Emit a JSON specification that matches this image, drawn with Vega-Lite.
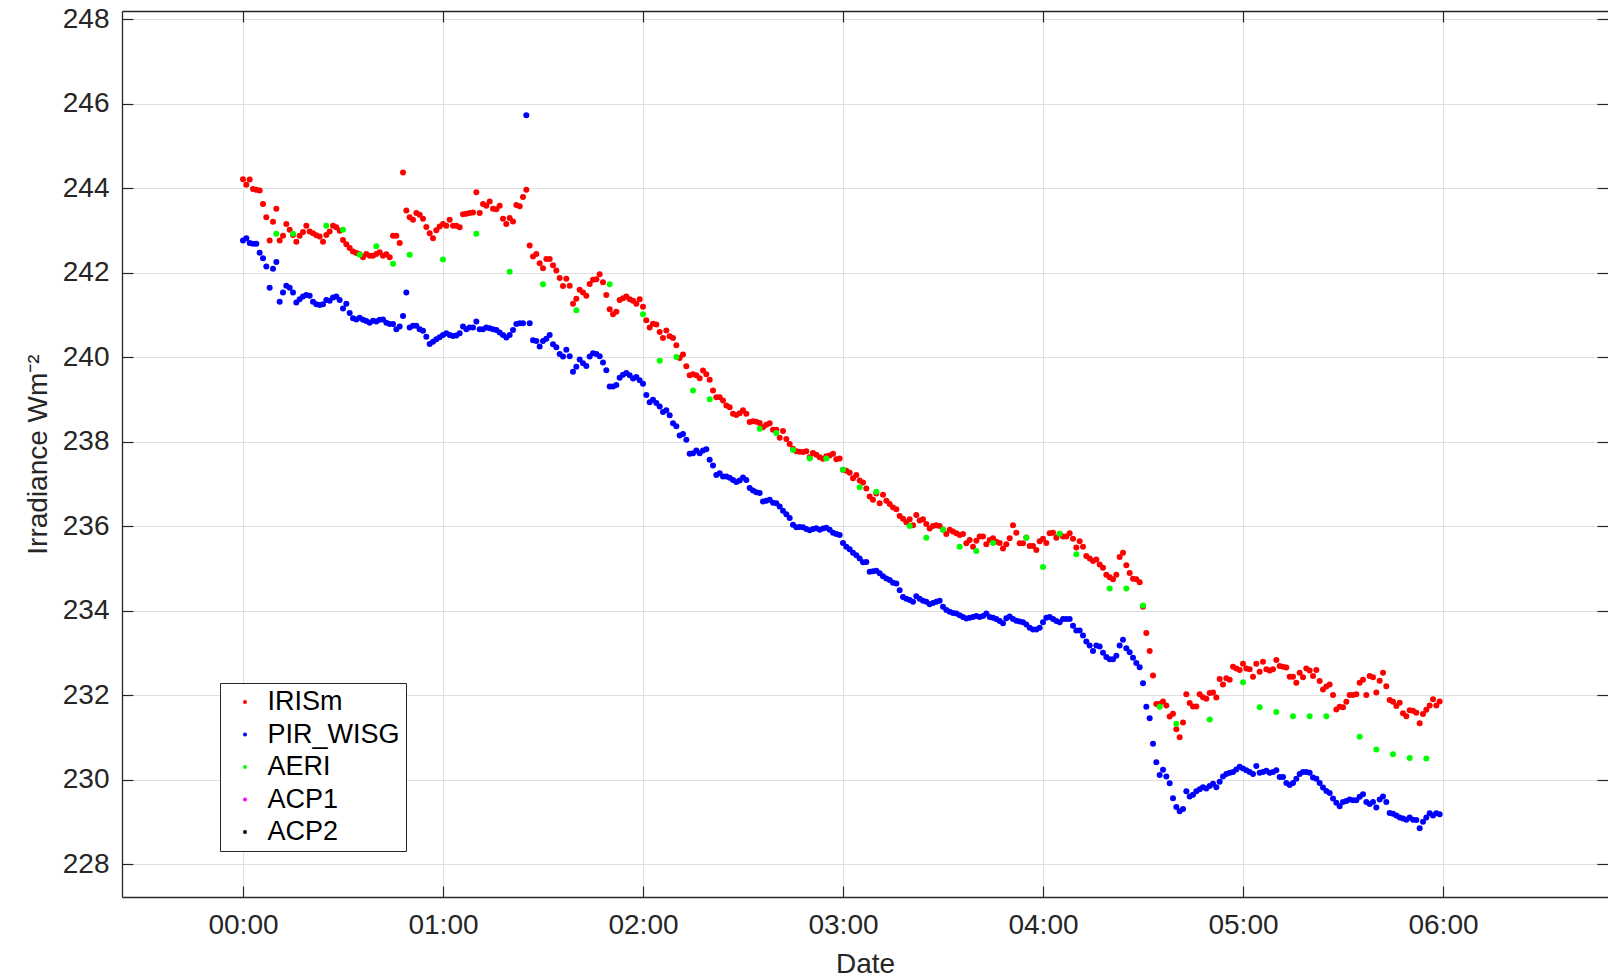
{
"$schema": "https://vega.github.io/schema/vega-lite/v6.json",
"width": 1486, "height": 886,
"autosize": {"type": "none"},
"padding": {"left": 122, "top": 11, "right": 0, "bottom": 82},
"background": "white",
"config": {"view": {"stroke": null}, "font": "Liberation Sans"},
"datasets": {
"IRISm": [{"t":0,"v":244.21},{"t":1,"v":244.08},{"t":2,"v":244.20},{"t":3,"v":243.98},{"t":4,"v":243.96},{"t":5,"v":243.94},{"t":6,"v":243.62},{"t":7,"v":243.31},{"t":8,"v":242.76},{"t":9,"v":243.20},{"t":10,"v":243.51},{"t":11,"v":242.76},{"t":12,"v":242.87},{"t":13,"v":243.15},{"t":14,"v":243.01},{"t":15,"v":242.89},{"t":16,"v":242.73},{"t":17,"v":242.87},{"t":18,"v":242.96},{"t":19,"v":243.11},{"t":20,"v":242.97},{"t":21,"v":242.93},{"t":22,"v":242.88},{"t":23,"v":242.85},{"t":24,"v":242.73},{"t":25,"v":242.89},{"t":26,"v":242.97},{"t":27,"v":243.11},{"t":28,"v":243.07},{"t":29,"v":242.99},{"t":30,"v":242.77},{"t":31,"v":242.67},{"t":32,"v":242.58},{"t":33,"v":242.50},{"t":34,"v":242.46},{"t":35,"v":242.43},{"t":36,"v":242.36},{"t":37,"v":242.44},{"t":38,"v":242.40},{"t":39,"v":242.40},{"t":40,"v":242.44},{"t":41,"v":242.48},{"t":42,"v":242.40},{"t":43,"v":242.43},{"t":44,"v":242.36},{"t":45,"v":242.87},{"t":46,"v":242.87},{"t":47,"v":242.70},{"t":48,"v":244.37},{"t":49,"v":243.47},{"t":50,"v":243.31},{"t":51,"v":243.25},{"t":52,"v":243.41},{"t":53,"v":243.37},{"t":54,"v":243.27},{"t":55,"v":243.08},{"t":56,"v":242.93},{"t":57,"v":242.81},{"t":58,"v":243.00},{"t":59,"v":243.09},{"t":60,"v":243.15},{"t":61,"v":243.11},{"t":62,"v":243.25},{"t":63,"v":243.11},{"t":64,"v":243.11},{"t":65,"v":243.07},{"t":66,"v":243.38},{"t":67,"v":243.39},{"t":68,"v":243.41},{"t":69,"v":243.42},{"t":70,"v":243.90},{"t":71,"v":243.41},{"t":72,"v":243.62},{"t":73,"v":243.58},{"t":74,"v":243.68},{"t":75,"v":243.51},{"t":76,"v":243.50},{"t":77,"v":243.58},{"t":78,"v":243.27},{"t":79,"v":243.15},{"t":80,"v":243.29},{"t":81,"v":243.21},{"t":82,"v":243.60},{"t":83,"v":243.57},{"t":84,"v":243.79},{"t":85,"v":243.96},{"t":86,"v":242.64},{"t":87,"v":242.38},{"t":88,"v":242.44},{"t":89,"v":242.22},{"t":90,"v":242.10},{"t":91,"v":242.32},{"t":92,"v":242.32},{"t":93,"v":242.17},{"t":94,"v":242.05},{"t":95,"v":241.87},{"t":96,"v":241.68},{"t":97,"v":241.85},{"t":98,"v":241.69},{"t":99,"v":241.26},{"t":100,"v":241.38},{"t":101,"v":241.59},{"t":102,"v":241.53},{"t":103,"v":241.45},{"t":104,"v":241.73},{"t":105,"v":241.83},{"t":106,"v":241.84},{"t":107,"v":241.96},{"t":108,"v":241.77},{"t":109,"v":241.47},{"t":110,"v":241.13},{"t":111,"v":241.01},{"t":112,"v":241.07},{"t":113,"v":241.35},{"t":114,"v":241.39},{"t":115,"v":241.43},{"t":116,"v":241.37},{"t":117,"v":241.33},{"t":118,"v":241.26},{"t":119,"v":241.37},{"t":120,"v":241.19},{"t":121,"v":240.87},{"t":122,"v":240.70},{"t":123,"v":240.79},{"t":124,"v":240.77},{"t":125,"v":240.59},{"t":126,"v":240.45},{"t":127,"v":240.63},{"t":128,"v":240.49},{"t":129,"v":240.45},{"t":130,"v":240.28},{"t":131,"v":239.98},{"t":132,"v":240.06},{"t":133,"v":239.78},{"t":134,"v":239.57},{"t":135,"v":239.59},{"t":136,"v":239.57},{"t":137,"v":239.50},{"t":138,"v":239.68},{"t":139,"v":239.59},{"t":140,"v":239.46},{"t":141,"v":239.21},{"t":142,"v":239.05},{"t":143,"v":239.05},{"t":144,"v":238.97},{"t":145,"v":238.85},{"t":146,"v":238.81},{"t":147,"v":238.66},{"t":148,"v":238.63},{"t":149,"v":238.67},{"t":150,"v":238.74},{"t":151,"v":238.66},{"t":152,"v":238.46},{"t":153,"v":238.48},{"t":154,"v":238.47},{"t":155,"v":238.44},{"t":156,"v":238.34},{"t":157,"v":238.40},{"t":158,"v":238.43},{"t":159,"v":238.28},{"t":160,"v":238.28},{"t":161,"v":238.09},{"t":162,"v":238.25},{"t":163,"v":238.06},{"t":164,"v":237.94},{"t":165,"v":237.83},{"t":166,"v":237.77},{"t":167,"v":237.76},{"t":168,"v":237.75},{"t":169,"v":237.77},{"t":170,"v":237.63},{"t":171,"v":237.73},{"t":172,"v":237.69},{"t":173,"v":237.63},{"t":174,"v":237.59},{"t":175,"v":237.65},{"t":176,"v":237.67},{"t":177,"v":237.71},{"t":178,"v":237.58},{"t":179,"v":237.60},{"t":180,"v":237.33},{"t":181,"v":237.31},{"t":182,"v":237.26},{"t":183,"v":237.13},{"t":184,"v":237.21},{"t":185,"v":237.08},{"t":186,"v":237.03},{"t":187,"v":236.89},{"t":188,"v":236.70},{"t":189,"v":236.62},{"t":190,"v":236.77},{"t":191,"v":236.54},{"t":192,"v":236.74},{"t":193,"v":236.60},{"t":194,"v":236.52},{"t":195,"v":236.44},{"t":196,"v":236.40},{"t":197,"v":236.24},{"t":198,"v":236.17},{"t":199,"v":236.09},{"t":200,"v":236.16},{"t":201,"v":236.02},{"t":202,"v":236.26},{"t":203,"v":236.13},{"t":204,"v":236.16},{"t":205,"v":236.05},{"t":206,"v":235.94},{"t":207,"v":236.00},{"t":208,"v":236.02},{"t":209,"v":236.00},{"t":210,"v":235.92},{"t":211,"v":235.81},{"t":212,"v":235.91},{"t":213,"v":235.87},{"t":214,"v":235.83},{"t":215,"v":235.79},{"t":216,"v":235.81},{"t":217,"v":235.59},{"t":218,"v":235.67},{"t":219,"v":235.51},{"t":220,"v":235.65},{"t":221,"v":235.75},{"t":222,"v":235.75},{"t":223,"v":235.57},{"t":224,"v":235.67},{"t":225,"v":235.71},{"t":226,"v":235.63},{"t":227,"v":235.60},{"t":228,"v":235.47},{"t":229,"v":235.57},{"t":230,"v":235.71},{"t":231,"v":236.02},{"t":232,"v":235.84},{"t":233,"v":235.59},{"t":234,"v":235.59},{"t":235,"v":235.73},{"t":236,"v":235.53},{"t":237,"v":235.53},{"t":238,"v":235.43},{"t":239,"v":235.64},{"t":240,"v":235.70},{"t":241,"v":235.60},{"t":242,"v":235.83},{"t":243,"v":235.84},{"t":244,"v":235.72},{"t":245,"v":235.82},{"t":246,"v":235.75},{"t":247,"v":235.75},{"t":248,"v":235.83},{"t":249,"v":235.70},{"t":250,"v":235.49},{"t":251,"v":235.64},{"t":252,"v":235.51},{"t":253,"v":235.29},{"t":254,"v":235.23},{"t":255,"v":235.17},{"t":256,"v":235.21},{"t":257,"v":235.09},{"t":258,"v":235.01},{"t":259,"v":234.85},{"t":260,"v":234.79},{"t":261,"v":234.74},{"t":262,"v":234.85},{"t":263,"v":235.27},{"t":264,"v":235.37},{"t":265,"v":235.07},{"t":266,"v":234.89},{"t":267,"v":234.75},{"t":268,"v":234.74},{"t":269,"v":234.67},{"t":270,"v":234.09},{"t":271,"v":233.47},{"t":272,"v":233.04},{"t":273,"v":232.46},{"t":274,"v":231.79},{"t":275,"v":231.79},{"t":276,"v":231.85},{"t":277,"v":231.75},{"t":278,"v":231.49},{"t":279,"v":231.56},{"t":280,"v":231.19},{"t":281,"v":231.00},{"t":282,"v":231.35},{"t":283,"v":232.02},{"t":284,"v":231.81},{"t":285,"v":231.73},{"t":286,"v":231.73},{"t":287,"v":232.02},{"t":288,"v":231.95},{"t":289,"v":231.91},{"t":290,"v":232.05},{"t":291,"v":232.06},{"t":292,"v":231.94},{"t":293,"v":232.38},{"t":294,"v":232.25},{"t":295,"v":232.40},{"t":296,"v":232.36},{"t":297,"v":232.67},{"t":298,"v":232.63},{"t":299,"v":232.59},{"t":300,"v":232.74},{"t":301,"v":232.63},{"t":302,"v":232.61},{"t":303,"v":232.43},{"t":304,"v":232.74},{"t":305,"v":232.55},{"t":306,"v":232.79},{"t":307,"v":232.61},{"t":308,"v":232.58},{"t":309,"v":232.61},{"t":310,"v":232.83},{"t":311,"v":232.69},{"t":312,"v":232.67},{"t":313,"v":232.65},{"t":314,"v":232.43},{"t":315,"v":232.43},{"t":316,"v":232.29},{"t":317,"v":232.53},{"t":318,"v":232.42},{"t":319,"v":232.63},{"t":320,"v":232.58},{"t":321,"v":232.45},{"t":322,"v":232.59},{"t":323,"v":232.33},{"t":324,"v":232.13},{"t":325,"v":232.20},{"t":326,"v":232.25},{"t":327,"v":232.00},{"t":328,"v":231.66},{"t":329,"v":231.72},{"t":330,"v":231.71},{"t":331,"v":231.84},{"t":332,"v":232.00},{"t":333,"v":232.00},{"t":334,"v":232.02},{"t":335,"v":232.29},{"t":336,"v":232.36},{"t":337,"v":232.00},{"t":338,"v":232.45},{"t":339,"v":232.42},{"t":340,"v":232.06},{"t":341,"v":232.34},{"t":342,"v":232.53},{"t":343,"v":232.21},{"t":344,"v":231.88},{"t":345,"v":231.84},{"t":346,"v":231.74},{"t":347,"v":231.82},{"t":348,"v":231.57},{"t":349,"v":231.50},{"t":350,"v":231.64},{"t":351,"v":231.63},{"t":352,"v":231.58},{"t":353,"v":231.33},{"t":354,"v":231.55},{"t":355,"v":231.65},{"t":356,"v":231.75},{"t":357,"v":231.90},{"t":358,"v":231.75},{"t":359,"v":231.85}],
"PIR_WISG": [{"t":0,"v":242.76},{"t":1,"v":242.81},{"t":2,"v":242.70},{"t":3,"v":242.68},{"t":4,"v":242.68},{"t":5,"v":242.47},{"t":6,"v":242.34},{"t":7,"v":242.14},{"t":8,"v":241.64},{"t":9,"v":242.09},{"t":10,"v":242.25},{"t":11,"v":241.31},{"t":12,"v":241.53},{"t":13,"v":241.69},{"t":14,"v":241.64},{"t":15,"v":241.53},{"t":16,"v":241.29},{"t":17,"v":241.37},{"t":18,"v":241.43},{"t":19,"v":241.47},{"t":20,"v":241.45},{"t":21,"v":241.31},{"t":22,"v":241.25},{"t":23,"v":241.23},{"t":24,"v":241.25},{"t":25,"v":241.35},{"t":26,"v":241.33},{"t":27,"v":241.41},{"t":28,"v":241.43},{"t":29,"v":241.35},{"t":30,"v":241.15},{"t":31,"v":241.26},{"t":32,"v":241.04},{"t":33,"v":240.92},{"t":34,"v":240.89},{"t":35,"v":240.93},{"t":36,"v":240.88},{"t":37,"v":240.85},{"t":38,"v":240.81},{"t":39,"v":240.86},{"t":40,"v":240.84},{"t":41,"v":240.88},{"t":42,"v":240.89},{"t":43,"v":240.81},{"t":44,"v":240.78},{"t":45,"v":240.78},{"t":46,"v":240.66},{"t":47,"v":240.72},{"t":48,"v":240.97},{"t":49,"v":241.53},{"t":50,"v":240.70},{"t":51,"v":240.74},{"t":52,"v":240.74},{"t":53,"v":240.66},{"t":54,"v":240.62},{"t":55,"v":240.48},{"t":56,"v":240.31},{"t":57,"v":240.36},{"t":58,"v":240.42},{"t":59,"v":240.47},{"t":60,"v":240.52},{"t":61,"v":240.56},{"t":62,"v":240.52},{"t":63,"v":240.50},{"t":64,"v":240.51},{"t":65,"v":240.56},{"t":66,"v":240.72},{"t":67,"v":240.66},{"t":68,"v":240.70},{"t":69,"v":240.70},{"t":70,"v":240.84},{"t":71,"v":240.66},{"t":72,"v":240.66},{"t":73,"v":240.70},{"t":74,"v":240.68},{"t":75,"v":240.66},{"t":76,"v":240.64},{"t":77,"v":240.58},{"t":78,"v":240.52},{"t":79,"v":240.46},{"t":80,"v":240.52},{"t":81,"v":240.64},{"t":82,"v":240.78},{"t":83,"v":240.80},{"t":84,"v":240.80},{"t":85,"v":245.72},{"t":86,"v":240.80},{"t":87,"v":240.40},{"t":88,"v":240.38},{"t":89,"v":240.25},{"t":90,"v":240.38},{"t":91,"v":240.43},{"t":92,"v":240.52},{"t":93,"v":240.30},{"t":94,"v":240.23},{"t":95,"v":240.07},{"t":96,"v":240.01},{"t":97,"v":240.17},{"t":98,"v":240.02},{"t":99,"v":239.65},{"t":100,"v":239.77},{"t":101,"v":239.94},{"t":102,"v":239.85},{"t":103,"v":239.79},{"t":104,"v":240.01},{"t":105,"v":240.09},{"t":106,"v":240.07},{"t":107,"v":240.02},{"t":108,"v":239.87},{"t":109,"v":239.69},{"t":110,"v":239.30},{"t":111,"v":239.30},{"t":112,"v":239.34},{"t":113,"v":239.51},{"t":114,"v":239.58},{"t":115,"v":239.62},{"t":116,"v":239.57},{"t":117,"v":239.49},{"t":118,"v":239.53},{"t":119,"v":239.45},{"t":120,"v":239.37},{"t":121,"v":239.10},{"t":122,"v":238.93},{"t":123,"v":238.99},{"t":124,"v":238.91},{"t":125,"v":238.83},{"t":126,"v":238.70},{"t":127,"v":238.74},{"t":128,"v":238.62},{"t":129,"v":238.43},{"t":130,"v":238.36},{"t":131,"v":238.14},{"t":132,"v":238.18},{"t":133,"v":238.04},{"t":134,"v":237.71},{"t":135,"v":237.72},{"t":136,"v":237.79},{"t":137,"v":237.72},{"t":138,"v":237.79},{"t":139,"v":237.82},{"t":140,"v":237.57},{"t":141,"v":237.43},{"t":142,"v":237.21},{"t":143,"v":237.25},{"t":144,"v":237.17},{"t":145,"v":237.17},{"t":146,"v":237.14},{"t":147,"v":237.09},{"t":148,"v":237.04},{"t":149,"v":237.08},{"t":150,"v":237.15},{"t":151,"v":237.09},{"t":152,"v":236.90},{"t":153,"v":236.84},{"t":154,"v":236.80},{"t":155,"v":236.78},{"t":156,"v":236.58},{"t":157,"v":236.60},{"t":158,"v":236.62},{"t":159,"v":236.55},{"t":160,"v":236.54},{"t":161,"v":236.46},{"t":162,"v":236.36},{"t":163,"v":236.28},{"t":164,"v":236.19},{"t":165,"v":236.03},{"t":166,"v":235.97},{"t":167,"v":235.98},{"t":168,"v":235.97},{"t":169,"v":235.93},{"t":170,"v":235.90},{"t":171,"v":235.93},{"t":172,"v":235.95},{"t":173,"v":235.91},{"t":174,"v":235.94},{"t":175,"v":235.96},{"t":176,"v":235.91},{"t":177,"v":235.84},{"t":178,"v":235.81},{"t":179,"v":235.79},{"t":180,"v":235.60},{"t":181,"v":235.51},{"t":182,"v":235.45},{"t":183,"v":235.37},{"t":184,"v":235.31},{"t":185,"v":235.23},{"t":186,"v":235.14},{"t":187,"v":235.15},{"t":188,"v":234.92},{"t":189,"v":234.93},{"t":190,"v":234.94},{"t":191,"v":234.88},{"t":192,"v":234.81},{"t":193,"v":234.76},{"t":194,"v":234.72},{"t":195,"v":234.66},{"t":196,"v":234.64},{"t":197,"v":234.48},{"t":198,"v":234.32},{"t":199,"v":234.28},{"t":200,"v":234.25},{"t":201,"v":234.21},{"t":202,"v":234.34},{"t":203,"v":234.28},{"t":204,"v":234.23},{"t":205,"v":234.21},{"t":206,"v":234.15},{"t":207,"v":234.18},{"t":208,"v":234.21},{"t":209,"v":234.23},{"t":210,"v":234.09},{"t":211,"v":234.01},{"t":212,"v":233.97},{"t":213,"v":233.94},{"t":214,"v":233.93},{"t":215,"v":233.89},{"t":216,"v":233.85},{"t":217,"v":233.81},{"t":218,"v":233.83},{"t":219,"v":233.85},{"t":220,"v":233.87},{"t":221,"v":233.85},{"t":222,"v":233.87},{"t":223,"v":233.93},{"t":224,"v":233.85},{"t":225,"v":233.83},{"t":226,"v":233.80},{"t":227,"v":233.75},{"t":228,"v":233.70},{"t":229,"v":233.82},{"t":230,"v":233.86},{"t":231,"v":233.80},{"t":232,"v":233.76},{"t":233,"v":233.74},{"t":234,"v":233.72},{"t":235,"v":233.67},{"t":236,"v":233.59},{"t":237,"v":233.55},{"t":238,"v":233.55},{"t":239,"v":233.59},{"t":240,"v":233.72},{"t":241,"v":233.83},{"t":242,"v":233.85},{"t":243,"v":233.80},{"t":244,"v":233.75},{"t":245,"v":233.72},{"t":246,"v":233.80},{"t":247,"v":233.80},{"t":248,"v":233.80},{"t":249,"v":233.64},{"t":250,"v":233.53},{"t":251,"v":233.53},{"t":252,"v":233.41},{"t":253,"v":233.27},{"t":254,"v":233.17},{"t":255,"v":233.04},{"t":256,"v":233.17},{"t":257,"v":233.15},{"t":258,"v":233.00},{"t":259,"v":232.90},{"t":260,"v":232.85},{"t":261,"v":232.85},{"t":262,"v":232.93},{"t":263,"v":233.17},{"t":264,"v":233.31},{"t":265,"v":233.11},{"t":266,"v":233.01},{"t":267,"v":232.88},{"t":268,"v":232.76},{"t":269,"v":232.66},{"t":270,"v":232.28},{"t":271,"v":231.72},{"t":272,"v":231.45},{"t":273,"v":230.85},{"t":274,"v":230.41},{"t":275,"v":230.11},{"t":276,"v":230.23},{"t":277,"v":230.07},{"t":278,"v":229.91},{"t":279,"v":229.56},{"t":280,"v":229.35},{"t":281,"v":229.25},{"t":282,"v":229.30},{"t":283,"v":229.72},{"t":284,"v":229.60},{"t":285,"v":229.64},{"t":286,"v":229.72},{"t":287,"v":229.77},{"t":288,"v":229.82},{"t":289,"v":229.79},{"t":290,"v":229.85},{"t":291,"v":229.90},{"t":292,"v":229.82},{"t":293,"v":229.95},{"t":294,"v":230.07},{"t":295,"v":230.13},{"t":296,"v":230.16},{"t":297,"v":230.18},{"t":298,"v":230.24},{"t":299,"v":230.30},{"t":300,"v":230.26},{"t":301,"v":230.22},{"t":302,"v":230.18},{"t":303,"v":230.13},{"t":304,"v":230.32},{"t":305,"v":230.16},{"t":306,"v":230.18},{"t":307,"v":230.21},{"t":308,"v":230.16},{"t":309,"v":230.18},{"t":310,"v":230.22},{"t":311,"v":230.06},{"t":312,"v":230.06},{"t":313,"v":229.92},{"t":314,"v":229.87},{"t":315,"v":229.92},{"t":316,"v":230.02},{"t":317,"v":230.13},{"t":318,"v":230.18},{"t":319,"v":230.18},{"t":320,"v":230.16},{"t":321,"v":230.05},{"t":322,"v":230.02},{"t":323,"v":229.92},{"t":324,"v":229.81},{"t":325,"v":229.73},{"t":326,"v":229.68},{"t":327,"v":229.55},{"t":328,"v":229.45},{"t":329,"v":229.37},{"t":330,"v":229.47},{"t":331,"v":229.49},{"t":332,"v":229.53},{"t":333,"v":229.51},{"t":334,"v":229.51},{"t":335,"v":229.59},{"t":336,"v":229.65},{"t":337,"v":229.47},{"t":338,"v":229.42},{"t":339,"v":229.47},{"t":340,"v":229.34},{"t":341,"v":229.53},{"t":342,"v":229.60},{"t":343,"v":229.47},{"t":344,"v":229.21},{"t":345,"v":229.19},{"t":346,"v":229.15},{"t":347,"v":229.10},{"t":348,"v":229.08},{"t":349,"v":229.05},{"t":350,"v":229.10},{"t":351,"v":229.05},{"t":352,"v":229.04},{"t":353,"v":228.85},{"t":354,"v":229.00},{"t":355,"v":229.10},{"t":356,"v":229.20},{"t":357,"v":229.15},{"t":358,"v":229.20},{"t":359,"v":229.18}],
"AERI": [{"t":10,"v":242.92},{"t":15,"v":242.92},{"t":25,"v":243.11},{"t":30,"v":243.01},{"t":35,"v":242.42},{"t":40,"v":242.62},{"t":45,"v":242.21},{"t":50,"v":242.42},{"t":60,"v":242.31},{"t":70,"v":242.92},{"t":80,"v":242.02},{"t":90,"v":241.72},{"t":100,"v":241.11},{"t":110,"v":241.72},{"t":120,"v":241.01},{"t":125,"v":239.91},{"t":130,"v":240.00},{"t":135,"v":239.21},{"t":140,"v":239.00},{"t":155,"v":238.30},{"t":160,"v":238.20},{"t":165,"v":237.80},{"t":170,"v":237.60},{"t":175,"v":237.60},{"t":180,"v":237.33},{"t":185,"v":236.92},{"t":190,"v":236.81},{"t":200,"v":236.00},{"t":205,"v":235.72},{"t":210,"v":235.91},{"t":215,"v":235.51},{"t":220,"v":235.41},{"t":225,"v":235.60},{"t":235,"v":235.72},{"t":240,"v":235.03},{"t":245,"v":235.82},{"t":250,"v":235.33},{"t":260,"v":234.52},{"t":265,"v":234.52},{"t":270,"v":234.12},{"t":275,"v":231.72},{"t":280,"v":231.32},{"t":290,"v":231.42},{"t":300,"v":232.30},{"t":305,"v":231.71},{"t":310,"v":231.60},{"t":315,"v":231.50},{"t":320,"v":231.50},{"t":325,"v":231.50},{"t":335,"v":231.01},{"t":340,"v":230.71},{"t":345,"v":230.60},{"t":350,"v":230.51},{"t":355,"v":230.50}]
},
"layer": [
{
"encoding": {
"x": {"field": "t", "type": "quantitative", "scale": {"domain": [-36.3, 409.5], "nice": false, "zero": false},
"axis": {"title": "Date", "values": [0,60,120,180,240,300,360], "labelExpr": "'0' + floor(datum.value/60) + ':00'", "grid": true, "gridColor": "#dfdfdf", "gridWidth": 1, "tickSize": -11, "tickWidth": 1.2, "tickColor": "#262626", "domainColor": "#262626", "domainWidth": 1.3, "labelFont": "Liberation Sans", "labelFontSize": 28, "labelColor": "#262626", "labelPadding": 25, "labelFlush": false, "labelOverlap": false, "titleFont": "Liberation Sans", "titleFontSize": 28, "titleFontWeight": "normal", "titleColor": "#262626", "titlePadding": 11}},
"y": {"field": "v", "type": "quantitative", "scale": {"domain": [227.22, 248.19], "nice": false, "zero": false},
"axis": {"title": "Irradiance Wm⁻²", "values": [228,230,232,234,236,238,240,242,244,246,248], "grid": true, "gridColor": "#dfdfdf", "gridWidth": 1, "tickSize": -11, "tickWidth": 1.2, "tickColor": "#262626", "domainColor": "#262626", "domainWidth": 1.3, "labelFont": "Liberation Sans", "labelFontSize": 28, "labelColor": "#262626", "labelPadding": 24, "labelFlush": false, "labelOverlap": false, "titleFont": "Liberation Sans", "titleFontSize": 28, "titleFontWeight": "normal", "titleColor": "#262626", "titlePadding": 10}}
},
"layer": [
{"data": {"name": "IRISm"}, "mark": {"type": "circle", "size": 36, "opacity": 1},
"encoding": {"color": {"datum": "IRISm", "type": "nominal",
"scale": {"domain": ["IRISm","PIR_WISG","AERI","ACP1","ACP2"], "range": ["#ff0000","#0000ff","#00ff00","#ff00ff","#000000"]},
"legend": {"title": null, "orient": "none", "legendX": 98, "legendY": 672, "strokeColor": "#262626", "fillColor": "white", "padding": 5.5, "labelFont": "Liberation Sans", "labelFontSize": 27, "labelColor": "#000000", "labelLimit": 0, "symbolType": "circle", "symbolSize": 16, "symbolOffset": 6, "labelOffset": 9, "rowPadding": 4.5}}}},
{"data": {"name": "PIR_WISG"}, "mark": {"type": "circle", "size": 36, "opacity": 1},
"encoding": {"color": {"datum": "PIR_WISG", "type": "nominal"}}},
{"data": {"name": "AERI"}, "mark": {"type": "circle", "size": 36, "opacity": 1},
"encoding": {"color": {"datum": "AERI", "type": "nominal"}}}
]
},
{
"data": {"name": "AERI"},
"mark": {"type": "circle", "opacity": 0},
"encoding": {
"x": {"field": "t", "type": "quantitative", "scale": {"domain": [-36.3, 409.5], "nice": false, "zero": false},
"axis": {"orient": "top", "title": null, "labels": false, "grid": false, "values": [0,60,120,180,240,300,360], "tickSize": -11, "tickWidth": 1.2, "tickColor": "#262626", "domainColor": "#262626", "domainWidth": 1.3}},
"y": {"field": "v", "type": "quantitative", "scale": {"domain": [227.22, 248.19], "nice": false, "zero": false},
"axis": {"orient": "right", "title": null, "labels": false, "grid": false, "domain": false, "values": [228,230,232,234,236,238,240,242,244,246,248], "tickSize": -11, "tickWidth": 1.2, "tickColor": "#262626"}}
}
}
],
"resolve": {"axis": {"x": "independent", "y": "independent"}}
}
